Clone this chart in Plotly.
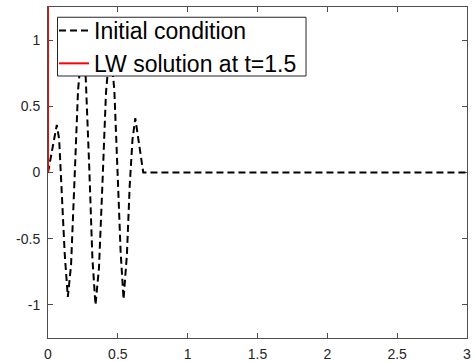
import plotly.graph_objects as go

# Initial condition
ic_x = [0.0, 0.02, 0.04, 0.063, 0.08, 0.10, 0.12, 0.142, 0.165, 0.19, 0.215, 0.245,
        0.27, 0.295, 0.318, 0.34, 0.365, 0.39, 0.415, 0.445, 0.475, 0.50, 0.52, 0.541,
        0.565, 0.585, 0.605, 0.625, 0.645, 0.665, 0.682, 3.0]
ic_y = [0.0, 0.11, 0.24, 0.36, 0.25, -0.15, -0.62, -0.94, -0.70, -0.05, 0.62, 0.97,
        0.72, 0.05, -0.65, -1.0, -0.72, -0.08, 0.60, 0.97, 0.62, -0.05, -0.60, -0.957,
        -0.62, -0.10, 0.25, 0.41, 0.27, 0.10, 0.0, 0.0]

# LW solution at t=1.5 (blows up right at the left boundary)
lw_x = [0.0, 0.0005]
lw_y = [0.0, 60.0]

x_ticks = [0, 0.5, 1, 1.5, 2, 2.5, 3]
x_ticktext = ["0", "0.5", "1", "1.5", "2", "2.5", "3"]
y_ticks = [-1, -0.5, 0, 0.5, 1]
y_ticktext = ["-1", "-0.5", "0", "0.5", "1"]

names = ["Initial condition", "LW solution at t=1.5"]

fig = go.Figure()
fig.add_trace(go.Scatter(x=ic_x, y=ic_y, mode="lines", name=names[0],
                         line=dict(color="black", width=2, dash="7px,4px")))
fig.add_trace(go.Scatter(x=lw_x, y=lw_y, mode="lines", name=names[1],
                         line=dict(color="#ff0000", width=2)))

axis_common = dict(showline=True, linecolor="#4d4d4d", linewidth=1, mirror="allticks",
                   ticks="inside", ticklen=5, tickcolor="#4d4d4d", tickwidth=1,
                   showgrid=False, zeroline=False, layer="below traces", automargin=False,
                   tickfont=dict(family="Liberation Sans, Arial, sans-serif", size=14, color="#262626"))

fig.update_xaxes(range=[0, 3], tickvals=x_ticks, ticktext=x_ticktext, ticklabelstandoff=3, **axis_common)
fig.update_yaxes(range=[-1.25, 1.25], tickvals=y_ticks, ticktext=y_ticktext, ticklabelstandoff=4, **axis_common)

# legend box (white panel with a thin frame), legend entries drawn on top of it
fig.add_shape(type="rect", xref="paper", yref="paper",
              x0=0.0227, x1=0.6158, y0=0.7915, y1=0.969,
              fillcolor="white", line=dict(color="#262626", width=1), layer="above")

fig.update_layout(
    width=476, height=362,
    margin=dict(l=48, r=9, t=7, b=24),
    plot_bgcolor="white", paper_bgcolor="white",
    showlegend=True,
    legend=dict(x=0.0143, y=0.994, xanchor="left", yanchor="top",
                bgcolor="rgba(0,0,0,0)", borderwidth=0,
                font=dict(family="Liberation Sans, Arial, sans-serif", size=23, color="black"),
                tracegroupgap=0, itemwidth=30),
)

fig.write_html("out.html")
